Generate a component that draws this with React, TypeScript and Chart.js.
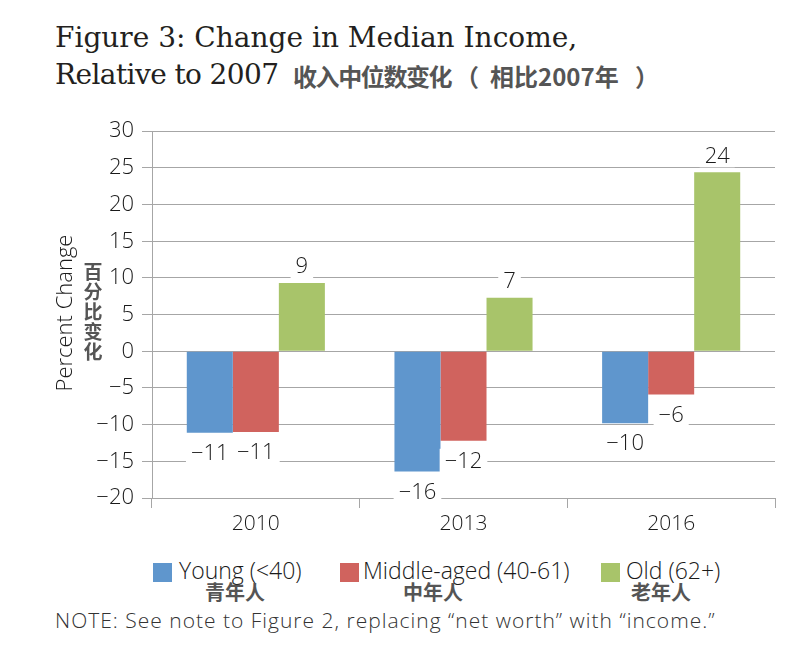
import React, { useEffect, useRef } from "react";
import { Chart, registerables } from "chart.js";

Chart.register(...registerables);

const categories = ["2010", "2013", "2016"];
const youngValues = [-11.1, -16.4, -9.8];
const middleValues = [-11.0, -12.2, -5.9];
const oldValues = [9.3, 7.3, 24.4];
const seriesNames = ["Young (<40)", "Middle-aged (40-61)", "Old (62+)"];
const seriesNamesZh = ["青年人", "中年人", "老年人"];
const seriesColors = ["#5f96cd", "#d0635e", "#a8c46a"];
const yMin = -20;
const yMax = 30;
const yStep = 5;
const yTitle = "Percent Change";
const yTitleZh = "百分比变化";

const SANS = "'Open Sans', Roboto, sans-serif";
const CJK = "'Noto Sans CJK SC', sans-serif";
const LIGHT = 300;

const fmt = (v: number) => (v < 0 ? "\u2212" + Math.abs(v) : String(v));

const labelPlugin = {
  id: "barLabels",
  afterDatasetsDraw(chart: any) {
    const ctx = chart.ctx;
    ctx.save();
    ctx.font = `${LIGHT} 22px ${SANS}`;
    ctx.textAlign = "center";
    ctx.textBaseline = "middle";
    chart.data.datasets.forEach((ds: any, di: number) => {
      const meta = chart.getDatasetMeta(di);
      meta.data.forEach((el: any, i: number) => {
        const v = ds.data[i] as number;
        const text = fmt(Math.round(v));
        const cy = v < 0 ? el.y + 20 : el.y - 17;
        const w = ctx.measureText(text).width + 10;
        ctx.fillStyle = "#ffffff";
        ctx.fillRect(el.x - w / 2, cy - 12, w, 24);
        ctx.fillStyle = "#1a1a1a";
        ctx.fillText(text, el.x, cy + 1);
      });
    });
    ctx.restore();
  },
};

const axisTitlePlugin = {
  id: "axisTitles",
  afterDraw(chart: any) {
    const ctx = chart.ctx;
    const area = chart.chartArea;
    ctx.save();
    ctx.fillStyle = "#1a1a1a";
    ctx.font = `${LIGHT} 22px ${SANS}`;
    ctx.textAlign = "center";
    ctx.textBaseline = "middle";
    ctx.translate(area.left - 86, 203);
    ctx.rotate(-Math.PI / 2);
    ctx.fillText(yTitle, 0, 0);
    ctx.restore();

    ctx.save();
    ctx.fillStyle = "#555555";
    ctx.font = `bold 19px ${CJK}`;
    ctx.textAlign = "center";
    ctx.textBaseline = "middle";
    const chars = Array.from(yTitleZh);
    chars.forEach((c, i) => {
      ctx.fillText(c, area.left - 59, 162 + i * 20);
    });
    ctx.restore();
  },
};

function ChartCanvas() {
  const ref = useRef<HTMLCanvasElement | null>(null);
  useEffect(() => {
    if (!ref.current) return;
    const chart = new Chart(ref.current, {
      type: "bar",
      data: {
        labels: categories,
        datasets: [
          { label: seriesNames[0], data: youngValues, backgroundColor: seriesColors[0] },
          { label: seriesNames[1], data: middleValues, backgroundColor: seriesColors[1] },
          { label: seriesNames[2], data: oldValues, backgroundColor: seriesColors[2] },
        ],
      },
      options: {
        responsive: false,
        animation: false,
        layout: { padding: { top: 18, right: 30, left: 0, bottom: 0 } },
        datasets: { bar: { categoryPercentage: 0.665, barPercentage: 1 } },
        plugins: { legend: { display: false }, tooltip: { enabled: false } },
        scales: {
          x: {
            grid: {
              display: true,
              drawOnChartArea: false,
              drawTicks: true,
              tickLength: 10,
              color: "#a6a6a6",
            },
            border: { display: true, color: "#a6a6a6" },
            ticks: {
              color: "#1a1a1a",
              font: { family: SANS, size: 21, weight: LIGHT },
              padding: 3,
            },
            afterFit: (s: any) => {
              s.height = 52;
            },
          },
          y: {
            min: yMin,
            max: yMax,
            ticks: {
              stepSize: yStep,
              color: "#1a1a1a",
              font: { family: SANS, size: 22, weight: LIGHT },
              padding: 8,
              callback: (v: any) => fmt(Number(v)),
            },
            grid: {
              color: "#a6a6a6",
              drawTicks: true,
              tickLength: 10,
              tickColor: "#a6a6a6",
            },
            border: { display: true, color: "#a6a6a6" },
            afterFit: (s: any) => {
              s.width = 152;
            },
          },
        },
      },
      plugins: [labelPlugin, axisTitlePlugin],
    });
    return () => chart.destroy();
  }, []);
  return (
    <canvas
      ref={ref}
      width={805}
      height={440}
      style={{ position: "absolute", left: 0, top: 110, width: 805, height: 440 }}
    />
  );
}

const titleStyle: React.CSSProperties = {
  position: "absolute",
  left: 55,
  fontFamily: "'DejaVu Serif', serif",
  fontSize: 28,
  lineHeight: "28px",
  color: "#231f20",
  whiteSpace: "nowrap",
};

const zhTitleStyle: React.CSSProperties = {
  position: "absolute",
  top: 61,
  fontFamily: CJK,
  fontWeight: 700,
  fontSize: 24,
  lineHeight: "30px",
  color: "#555555",
  whiteSpace: "nowrap",
};

export default function App() {
  const squareLefts = [153, 340, 601];
  const textLefts = [179, 363, 626];
  const zhCenters = [235, 433, 661];
  return (
    <div
      style={{
        position: "absolute",
        left: 0,
        top: 0,
        width: 805,
        height: 647,
        background: "#ffffff",
        overflow: "hidden",
      }}
    >
      <div style={{ ...titleStyle, top: 24 }}>Figure 3: Change in Median Income,</div>
      <div style={{ ...titleStyle, top: 61, letterSpacing: -0.6 }}>Relative to 2007</div>
      <div style={{ ...zhTitleStyle, left: 293, letterSpacing: -1.4 }}>收入中位数变化</div>
      <div style={{ ...zhTitleStyle, left: 455 }}>（</div>
      <div style={{ ...zhTitleStyle, left: 490 }}>相比2007年</div>
      <div style={{ ...zhTitleStyle, left: 635 }}>）</div>
      <ChartCanvas />
      {seriesNames.map((n, i) => (
        <React.Fragment key={n}>
          <div
            style={{
              position: "absolute",
              left: squareLefts[i],
              top: 563,
              width: 19,
              height: 19,
              background: seriesColors[i],
            }}
          />
          <div
            style={{
              position: "absolute",
              left: textLefts[i],
              top: 559,
              fontFamily: SANS,
              fontWeight: LIGHT,
              fontSize: 23,
              lineHeight: "23px",
              color: "#1a1a1a",
              whiteSpace: "nowrap",
            }}
          >
            {n}
          </div>
          <div
            style={{
              position: "absolute",
              left: zhCenters[i] - 50,
              width: 100,
              textAlign: "center",
              top: 582,
              fontFamily: CJK,
              fontWeight: 700,
              fontSize: 20,
              lineHeight: "20px",
              color: "#555555",
            }}
          >
            {seriesNamesZh[i]}
          </div>
        </React.Fragment>
      ))}
      <div
        style={{
          position: "absolute",
          left: 55,
          top: 609,
          fontFamily: SANS,
          fontWeight: LIGHT,
          fontSize: 21,
          lineHeight: "22px",
          letterSpacing: 1,
          color: "#333333",
          whiteSpace: "nowrap",
        }}
      >
        NOTE: See note to Figure 2, replacing “net worth” with “income.”
      </div>
    </div>
  );
}
